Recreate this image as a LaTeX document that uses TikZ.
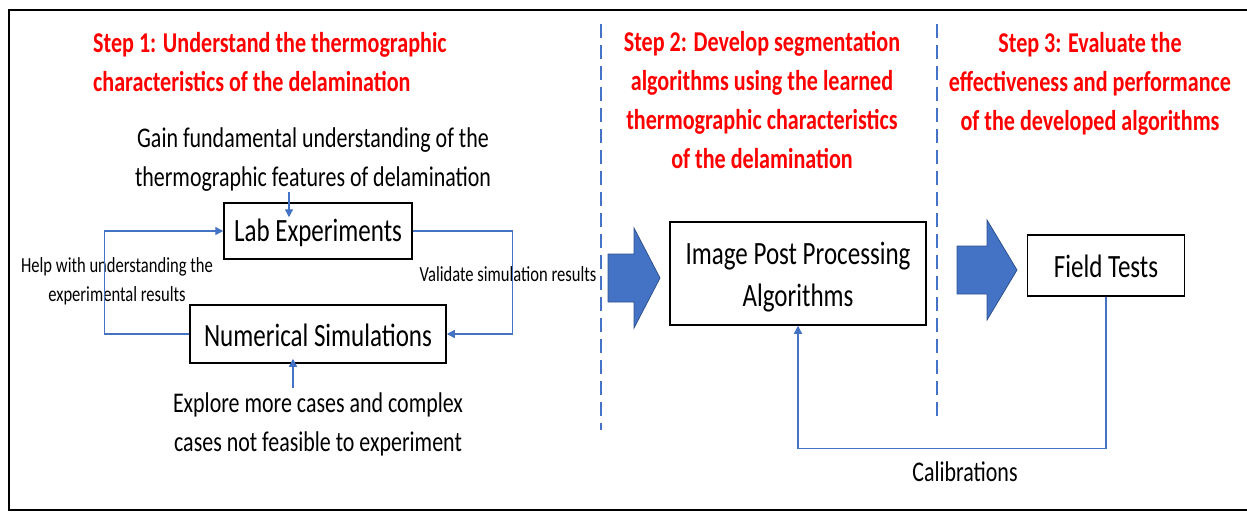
\documentclass[tikz,border=0pt]{standalone}
\usepackage{fontspec}
\setmainfont{Carlito}[FakeStretch=0.77]
\usepackage{tikz}
\usetikzlibrary{arrows.meta}

\definecolor{officeblue}{RGB}{68,114,196}
\definecolor{arrowedge}{RGB}{47,82,143}

% font sizes
\newcommand{\boxtxt}{\fontsize{32.5}{42}\selectfont}
\newcommand{\notetxt}{\fontsize{28.5}{39}\selectfont}
\newcommand{\smalltxt}{\fontsize{21.5}{29}\selectfont}
\newcommand{\steptxt}{\fontsize{28.7}{39}\selectfont\bfseries}
% lower a box text a little without moving the box
\newcommand{\lowered}[2]{\raisebox{-#1}[\height][\depth]{#2}}

\tikzset{
  box/.style={draw=black, line width=1.5pt, inner sep=0pt, align=center, font=\boxtxt},
  conn/.style={officeblue, line width=1.3pt, -{Triangle[length=8pt,width=8pt]}},
  note/.style={inner sep=0pt, align=center, font=\notetxt},
  smallnote/.style={inner sep=0pt, align=center, font=\smalltxt},
  steptitle/.style={inner sep=0pt, text=red, font=\steptxt},
  divider/.style={officeblue, line width=2.8pt, dash pattern=on 14pt off 7pt},
}

\begin{document}
\begin{tikzpicture}[x=1pt, y=-1pt]
\useasboundingbox (0,0) rectangle (1247,512);
% frame
\draw[line width=2.5pt] (1247,10) -- (9,10) -- (9,510) -- (1247,510);
% dividers between the steps
\draw[divider] (601,24) -- (601,430);
\draw[divider] (937,24) -- (937,418);

% step titles
\node[steptitle, anchor=west, align=left] (step1) at (93,62) {Step 1: Understand the thermographic\\characteristics of the delamination};
\node[steptitle, align=center] (step2) at (762,100) {Step 2: Develop segmentation\\algorithms using the learned\\thermographic characteristics\\of the delamination};
\node[steptitle, align=center] (step3) at (1090,84) {Step 3: Evaluate the\\effectiveness and performance\\of the developed algorithms};

% step 1
\node[note] (gain) at (313,160) {Gain fundamental understanding of the\\thermographic features of delamination};
\node[box, minimum width=188, minimum height=56] (lab) at (318,231) {\lowered{2pt}{Lab Experiments}};
\node[box, minimum width=256, minimum height=58] (sim) at (318,334) {\lowered{1pt}{Numerical Simulations}};
\node[note] (explore) at (318,424) {Explore more cases and complex\\cases not feasible to experiment};
\node[smallnote] (help) at (117,281) {Help with understanding the\\experimental results};
\node[smallnote] (valid) at (508,274) {Validate simulation results};

% the two short arrows reach a little into the boxes
\draw[conn] ([xshift=-29pt, yshift=10pt]lab.north) -- ([xshift=-29pt, yshift=-15pt]lab.north);
\draw[conn] ([xshift=-25pt, yshift=-24pt]sim.south) -- ([xshift=-25pt, yshift=5pt]sim.south);
\draw[conn] (sim.west) -- ++(-85,0) |- (lab.west);
\draw[conn] (lab.east) -- ++(100,0) |- (sim.east);

% steps 2 and 3
\node[box, minimum width=256, minimum height=103] (ipp) at (798,273.5) {\lowered{4pt}{\parbox{240pt}{\centering Image Post Processing\\Algorithms}}};
\node[box, minimum width=157, minimum height=61] (field) at (1106,265.5) {\lowered{1pt}{Field Tests}};
\node[note] (calib) at (965,472) {Calibrations};
\draw[conn] (field.south) -- ++(0,152) -| (ipp.south);

% block arrows
\foreach \x/\y/\w in {608/278/52, 957/270/60} {
  \filldraw[fill=officeblue, draw=arrowedge, line width=0.8pt]
    (\x,\y-24) -- (\x+\w/2,\y-24) -- (\x+\w/2,\y-50) -- (\x+\w,\y)
    -- (\x+\w/2,\y+50) -- (\x+\w/2,\y+24) -- (\x,\y+24) -- cycle;
}
\end{tikzpicture}
\end{document}
